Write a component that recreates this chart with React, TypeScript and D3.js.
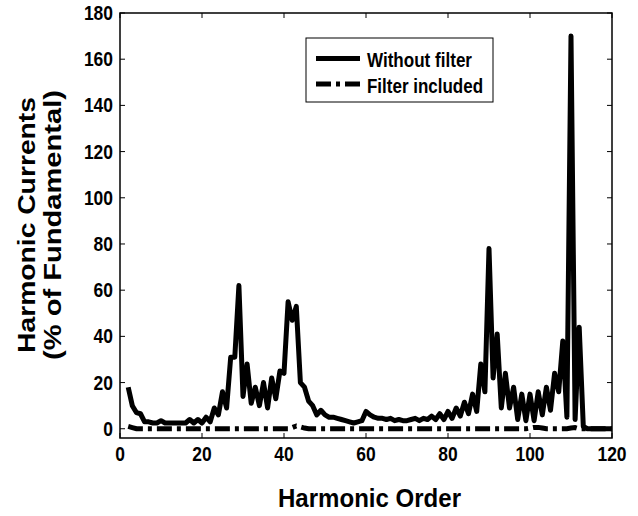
import * as d3 from 'd3';
import { useEffect, useRef } from 'react';

// harmonic orders 2..120
const harmonicOrder = d3.range(2, 121);

// % of fundamental
const withoutFilter = [
  18, 10, 7, 6.5, 3, 3, 2.5, 2.5, 3.5, 2.5, // 2-11
  2.5, 2.5, 2.5, 2.5, 2.5, 4, 2.5, 4, 2.5, 5, // 12-21
  3, 9, 6, 16, 9, 31, 31, 62, 14, 28, // 22-31
  11, 18, 10, 20, 9, 22, 13, 25, 24, 55, // 32-41
  47, 53, 20, 18, 12, 10, 6, 8, 6, 5, // 42-51
  5, 4.5, 4, 3.5, 3, 2.5, 3, 3.5, 7.5, 6, // 52-61
  5, 4.5, 4.5, 4, 4.5, 3.5, 4, 3.5, 3.5, 4, // 62-71
  4.5, 3.5, 4.5, 4, 5.5, 4, 6.5, 4, 7.5, 4.5, // 72-81
  9, 5.5, 11.5, 6.5, 15, 7.5, 28, 16, 78, 22, // 82-91
  41, 9, 24, 9, 18, 4, 15, 3.5, 15, 3.5, // 92-101
  16, 6, 18, 8, 24, 16, 38, 5, 170, 4, // 102-111
  44, 1, 0, 0, 0, 0, 0, 0, 0, // 112-120
];

const filterIncluded = [
  1, 0.5, 0, 0, 0, 0, 0, 0, 0, 0,
  0, 0, 0, 0, 0, 0, 0, 0, 0, 0,
  0, 0, 0, 0, 0, 0, 0, 0, 0, 0,
  0, 0, 0, 0, 0, 0, 0, 0, 0, 0,
  0.5, 1.2, 0.8, 0.3, 0, 0, 0, 0, 0, 0,
  0, 0, 0, 0, 0, 0, 0, 0, 0, 0,
  0, 0, 0, 0, 0, 0, 0, 0, 0, 0,
  0, 0, 0, 0, 0, 0, 0, 0, 0, 0,
  0, 0, 0, 0, 0, 0, 0, 0, 0, 0,
  0, 0, 0, 0, 0, 0, 0, 0, 0.3, 0.6,
  0.6, 0.3, 0, 0, 0, 0, 0, 0, 0.3, 0.5,
  0, 0, 0, 0, 0, 0, 0, 0, 0,
];

const xTicks = [0, 20, 40, 60, 80, 100, 120];
const yTicks = [0, 20, 40, 60, 80, 100, 120, 140, 160, 180];
const seriesNames = ['Without filter', 'Filter included'];

const FONT = 'Arial, "Liberation Sans", sans-serif';
const DASH = '15,5,4,5';

export default function App() {
  const ref = useRef<SVGSVGElement>(null);

  useEffect(() => {
    const svg = d3.select(ref.current);
    svg.selectAll('*').remove();

    const left = 120, right = 612, top = 13, bottom = 438;

    const x = d3.scaleLinear().domain([0, 120]).range([left, right]);
    const y = d3.scaleLinear().domain([-4, 180]).range([bottom, top]);

    // plot lines
    const line = d3.line<number>()
      .x((_, i) => x(harmonicOrder[i]))
      .y(d => y(d));

    svg.append('path')
      .attr('d', line(filterIncluded))
      .attr('fill', 'none')
      .attr('stroke', '#000')
      .attr('stroke-width', 5)
      .attr('stroke-dasharray', DASH);

    svg.append('path')
      .attr('d', line(withoutFilter))
      .attr('fill', 'none')
      .attr('stroke', '#000')
      .attr('stroke-width', 5)
      .attr('stroke-linejoin', 'round');

    // axes box with inward ticks
    const ax = svg.append('g');
    ax.append('rect')
      .attr('x', left).attr('y', top)
      .attr('width', right - left).attr('height', bottom - top)
      .attr('fill', 'none').attr('stroke', '#000').attr('stroke-width', 1.5);

    xTicks.forEach(t => {
      ax.append('line').attr('x1', x(t)).attr('x2', x(t))
        .attr('y1', bottom).attr('y2', bottom - 5).attr('stroke', '#000');
      ax.append('line').attr('x1', x(t)).attr('x2', x(t))
        .attr('y1', top).attr('y2', top + 5).attr('stroke', '#000');
      const s = String(t);
      ax.append('text')
        .attr('x', x(t)).attr('y', 461)
        .attr('text-anchor', 'middle')
        .attr('textLength', 9.7 * s.length)
        .attr('lengthAdjust', 'spacingAndGlyphs')
        .text(s);
    });

    yTicks.forEach(t => {
      ax.append('line').attr('x1', left).attr('x2', left + 5)
        .attr('y1', y(t)).attr('y2', y(t)).attr('stroke', '#000');
      ax.append('line').attr('x1', right).attr('x2', right - 5)
        .attr('y1', y(t)).attr('y2', y(t)).attr('stroke', '#000');
      const s = String(t);
      ax.append('text')
        .attr('x', 113).attr('y', y(t) + 7)
        .attr('text-anchor', 'end')
        .attr('textLength', 9.7 * s.length)
        .attr('lengthAdjust', 'spacingAndGlyphs')
        .text(s);
    });

    ax.selectAll('text')
      .attr('font-family', FONT)
      .attr('font-weight', 'bold')
      .attr('font-size', 19.5);

    // axis titles
    svg.append('text')
      .attr('x', (278 + 461) / 2).attr('y', 507)
      .attr('text-anchor', 'middle')
      .attr('font-family', FONT).attr('font-weight', 'bold').attr('font-size', 25)
      .attr('textLength', 183).attr('lengthAdjust', 'spacingAndGlyphs')
      .text('Harmonic Order');

    const yTitle = ['Harmonic Currents', '(% of Fundamental)'];
    const yTitleX = [35, 61];
    const yTitleLen = [256, 270];
    yTitle.forEach((s, i) => {
      svg.append('text')
        .attr('transform', `translate(${yTitleX[i]},225) rotate(-90)`)
        .attr('text-anchor', 'middle')
        .attr('font-family', FONT).attr('font-weight', 'bold').attr('font-size', 23)
        .attr('textLength', yTitleLen[i]).attr('lengthAdjust', 'spacingAndGlyphs')
        .text(s);
    });

    // legend
    const lg = svg.append('g');
    lg.append('rect')
      .attr('x', 306).attr('y', 38).attr('width', 187).attr('height', 64)
      .attr('fill', '#fff').attr('stroke', '#000').attr('stroke-width', 1);
    const rowY = [58.5, 84];
    const textLen = [105, 116];
    seriesNames.forEach((name, i) => {
      lg.append('line')
        .attr('x1', 316).attr('x2', 360)
        .attr('y1', rowY[i]).attr('y2', rowY[i])
        .attr('stroke', '#000').attr('stroke-width', 5)
        .attr('stroke-dasharray', i === 1 ? DASH : null);
      lg.append('text')
        .attr('x', 367).attr('y', rowY[i] + 8.5)
        .attr('font-family', FONT).attr('font-weight', 'bold').attr('font-size', 19.5)
        .attr('textLength', textLen[i]).attr('lengthAdjust', 'spacingAndGlyphs')
        .text(name);
    });
  }, []);

  return (
    <svg
      ref={ref}
      width={638}
      height={516}
      style={{ position: 'absolute', left: 0, top: 0, background: '#fff' }}
    />
  );
}
